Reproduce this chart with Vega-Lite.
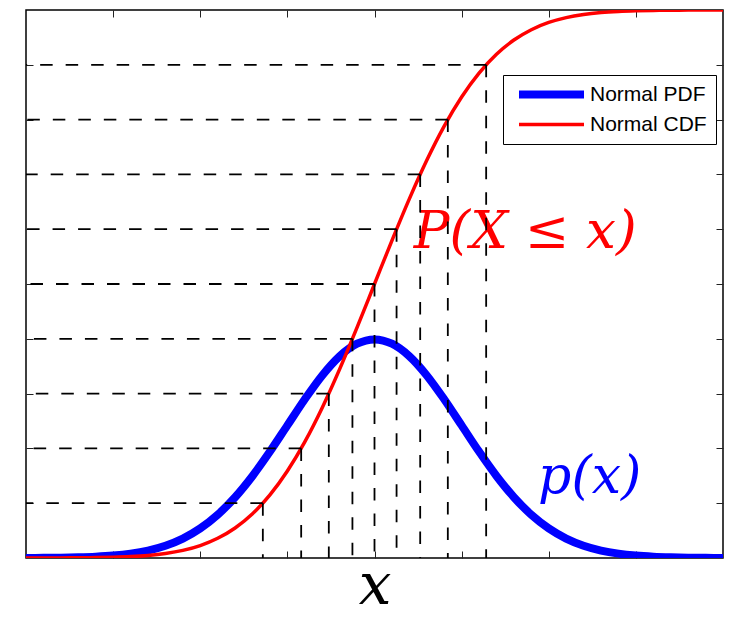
{
  "$schema": "https://vega.github.io/schema/vega-lite/v6.json",
  "width": 697,
  "height": 548,
  "autosize": {"type": "none"},
  "padding": {"left": 26, "top": 10, "right": 12, "bottom": 59},
  "background": "white",
  "config": {
    "view": {"stroke": "black", "strokeWidth": 1.5},
    "axis": {"labels": false, "domain": false, "grid": false, "ticks": true, "tickSize": -7, "tickColor": "#222222", "tickWidth": 1, "title": null}
  },
  "datasets": {
    "curves": [
      {"x": -4.0, "Normal PDF": 0.00013, "Normal CDF": 0.00003},
      {"x": -3.8, "Normal PDF": 0.00029, "Normal CDF": 0.00007},
      {"x": -3.6, "Normal PDF": 0.00061, "Normal CDF": 0.00016},
      {"x": -3.4, "Normal PDF": 0.00123, "Normal CDF": 0.00034},
      {"x": -3.2, "Normal PDF": 0.00238, "Normal CDF": 0.00069},
      {"x": -3.0, "Normal PDF": 0.00443, "Normal CDF": 0.00135},
      {"x": -2.8, "Normal PDF": 0.00792, "Normal CDF": 0.00256},
      {"x": -2.6, "Normal PDF": 0.01358, "Normal CDF": 0.00466},
      {"x": -2.4, "Normal PDF": 0.02239, "Normal CDF": 0.00820},
      {"x": -2.2, "Normal PDF": 0.03547, "Normal CDF": 0.01390},
      {"x": -2.0, "Normal PDF": 0.05399, "Normal CDF": 0.02275},
      {"x": -1.8, "Normal PDF": 0.07895, "Normal CDF": 0.03593},
      {"x": -1.6, "Normal PDF": 0.11092, "Normal CDF": 0.05480},
      {"x": -1.4, "Normal PDF": 0.14973, "Normal CDF": 0.08076},
      {"x": -1.2, "Normal PDF": 0.19419, "Normal CDF": 0.11507},
      {"x": -1.0, "Normal PDF": 0.24197, "Normal CDF": 0.15866},
      {"x": -0.8, "Normal PDF": 0.28969, "Normal CDF": 0.21186},
      {"x": -0.6, "Normal PDF": 0.33322, "Normal CDF": 0.27425},
      {"x": -0.4, "Normal PDF": 0.36827, "Normal CDF": 0.34458},
      {"x": -0.2, "Normal PDF": 0.39104, "Normal CDF": 0.42074},
      {"x": 0.0, "Normal PDF": 0.39894, "Normal CDF": 0.50000},
      {"x": 0.2, "Normal PDF": 0.39104, "Normal CDF": 0.57926},
      {"x": 0.4, "Normal PDF": 0.36827, "Normal CDF": 0.65542},
      {"x": 0.6, "Normal PDF": 0.33322, "Normal CDF": 0.72575},
      {"x": 0.8, "Normal PDF": 0.28969, "Normal CDF": 0.78814},
      {"x": 1.0, "Normal PDF": 0.24197, "Normal CDF": 0.84134},
      {"x": 1.2, "Normal PDF": 0.19419, "Normal CDF": 0.88493},
      {"x": 1.4, "Normal PDF": 0.14973, "Normal CDF": 0.91924},
      {"x": 1.6, "Normal PDF": 0.11092, "Normal CDF": 0.94520},
      {"x": 1.8, "Normal PDF": 0.07895, "Normal CDF": 0.96407},
      {"x": 2.0, "Normal PDF": 0.05399, "Normal CDF": 0.97725},
      {"x": 2.2, "Normal PDF": 0.03547, "Normal CDF": 0.98610},
      {"x": 2.4, "Normal PDF": 0.02239, "Normal CDF": 0.99180},
      {"x": 2.6, "Normal PDF": 0.01358, "Normal CDF": 0.99534},
      {"x": 2.8, "Normal PDF": 0.00792, "Normal CDF": 0.99744},
      {"x": 3.0, "Normal PDF": 0.00443, "Normal CDF": 0.99865},
      {"x": 3.2, "Normal PDF": 0.00238, "Normal CDF": 0.99931},
      {"x": 3.4, "Normal PDF": 0.00123, "Normal CDF": 0.99966},
      {"x": 3.6, "Normal PDF": 0.00061, "Normal CDF": 0.99984},
      {"x": 3.8, "Normal PDF": 0.00029, "Normal CDF": 0.99993},
      {"x": 4.0, "Normal PDF": 0.00013, "Normal CDF": 0.99997}
    ],
    "quant": [
      {"p": 0.1, "q": -1.2816},
      {"p": 0.2, "q": -0.8416},
      {"p": 0.3, "q": -0.5244},
      {"p": 0.4, "q": -0.2533},
      {"p": 0.5, "q": 0.0},
      {"p": 0.6, "q": 0.2533},
      {"p": 0.7, "q": 0.5244},
      {"p": 0.8, "q": 0.8416},
      {"p": 0.9, "q": 1.2816}
    ],
    "notes": [
      {"label": "P(X ≤ x)", "x": 1.73, "y": 0.566, "series": "cdf"},
      {"label": "p(x)", "x": 2.47, "y": 0.1186, "series": "pdf"}
    ]
  },
  "resolve": {"axis": {"x": "independent", "y": "independent"}},
  "layer": [
    {
      "data": {"name": "curves"},
      "transform": [{"fold": ["Normal PDF", "Normal CDF"], "as": ["key", "value"]}],
      "mark": {"type": "line", "interpolate": "monotone", "clip": true},
      "encoding": {
        "x": {"field": "x", "type": "quantitative", "scale": {"domain": [-4, 4], "nice": false, "zero": false}, "axis": {"orient": "bottom", "values": [-3, -2, -1, 0, 1, 2, 3], "title": "x", "titleFont": "DejaVu Serif", "titleFontStyle": "italic", "titleFontWeight": "normal", "titleFontSize": 58, "titleColor": "black", "titleBaseline": "alphabetic", "titlePadding": 45}},
        "y": {"field": "value", "type": "quantitative", "scale": {"domain": [0, 1], "nice": false, "zero": false}, "axis": {"orient": "left", "values": [0.1, 0.2, 0.3, 0.4, 0.5, 0.6, 0.7, 0.8, 0.9]}},
        "color": {"field": "key", "type": "nominal", "scale": {"domain": ["Normal PDF", "Normal CDF"], "range": ["#0000ff", "#ff0000"]},
          "legend": {"orient": "none", "legendX": 477, "legendY": 65, "title": null, "symbolType": "M-5,0H5", "symbolSize": 169, "labelFont": "Liberation Sans", "labelFontSize": 21, "labelColor": "black", "strokeColor": "black", "fillColor": "white", "padding": 9, "labelOffset": 28, "symbolOffset": 29, "rowPadding": 2}},
        "strokeWidth": {"field": "key", "type": "nominal", "scale": {"domain": ["Normal PDF", "Normal CDF"], "range": [8, 3.5]},
          "legend": {"orient": "none", "legendX": 477, "legendY": 65, "title": null, "symbolType": "M-5,0H5", "symbolSize": 169, "labelFont": "Liberation Sans", "labelFontSize": 21, "labelColor": "black", "strokeColor": "black", "fillColor": "white", "padding": 9, "labelOffset": 28, "symbolOffset": 29, "rowPadding": 2}},
        "order": {"field": "x", "type": "quantitative"}
      }
    },
    {
      "data": {"name": "notes"},
      "transform": [{"filter": "datum.series == 'cdf'"}],
      "mark": {"type": "text", "font": "DejaVu Serif", "fontStyle": "italic", "fontSize": 53, "align": "center", "baseline": "alphabetic", "color": "#ff0000"},
      "encoding": {
        "x": {"field": "x", "type": "quantitative", "axis": {"orient": "top", "values": [-3, -2, -1, 0, 1, 2, 3]}},
        "y": {"field": "y", "type": "quantitative", "axis": {"orient": "right", "values": [0.1, 0.2, 0.3, 0.4, 0.5, 0.6, 0.7, 0.8, 0.9]}},
        "text": {"field": "label"}
      }
    },
    {
      "data": {"name": "notes"},
      "transform": [{"filter": "datum.series == 'pdf'"}],
      "mark": {"type": "text", "font": "DejaVu Serif", "fontStyle": "italic", "fontSize": 52, "align": "center", "baseline": "alphabetic", "color": "#0000ff"},
      "encoding": {
        "x": {"field": "x", "type": "quantitative", "axis": null},
        "y": {"field": "y", "type": "quantitative", "axis": null},
        "text": {"field": "label"}
      }
    },
    {
      "data": {"name": "quant"},
      "mark": {"type": "rule", "color": "black", "strokeWidth": 1.8, "strokeDash": [12.5, 13]},
      "encoding": {
        "x": {"field": "q", "type": "quantitative", "axis": null},
        "x2": {"datum": -4},
        "y": {"field": "p", "type": "quantitative", "axis": null}
      }
    },
    {
      "data": {"name": "quant"},
      "mark": {"type": "rule", "color": "black", "strokeWidth": 1.8, "strokeDash": [12.5, 13]},
      "encoding": {
        "x": {"field": "q", "type": "quantitative", "axis": null},
        "y": {"field": "p", "type": "quantitative", "axis": null},
        "y2": {"datum": 0}
      }
    }
  ]
}
